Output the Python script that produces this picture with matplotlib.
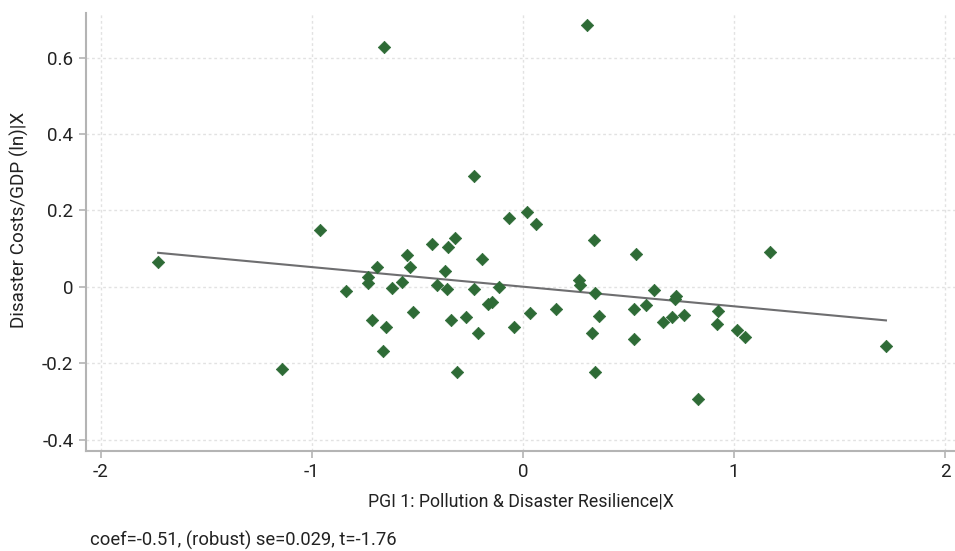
import matplotlib.pyplot as plt
import numpy as np

# Added-variable plot data
pgi_x = [-1.730, -1.141, -0.962, -0.839, -0.735, -0.732, -0.716, -0.689, -0.657, -0.650,
         -0.661, -0.618, -0.571, -0.547, -0.534, -0.522, -0.430, -0.405, -0.370, -0.359,
         -0.354, -0.342, -0.320, -0.312, -0.269, -0.231, -0.230, -0.214, -0.193, -0.163,
         -0.144, -0.113, -0.064, -0.040, 0.018, 0.034, 0.061, 0.157, 0.268, 0.271,
         0.306, 0.328, 0.339, 0.340, 0.342, 0.362, 0.527, 0.527, 0.535, 0.584,
         0.623, 0.664, 0.705, 0.724, 0.720, 0.764, 0.831, 0.918, 0.926, 1.015,
         1.053, 1.171, 1.720]
cost_y = [0.064, -0.216, 0.148, -0.010, 0.025, 0.009, -0.087, 0.051, 0.628, -0.105,
          -0.169, -0.004, 0.013, 0.083, 0.051, -0.065, 0.112, 0.004, 0.041, -0.007,
          0.104, -0.087, 0.127, -0.223, -0.079, 0.289, -0.007, -0.122, 0.074, -0.046,
          -0.041, 0.000, 0.181, -0.106, 0.195, -0.069, 0.164, -0.059, 0.019, 0.004,
          0.686, -0.120, 0.122, -0.017, -0.222, -0.077, -0.057, -0.137, 0.087, -0.048,
          -0.009, -0.092, -0.078, -0.023, -0.033, -0.074, -0.294, -0.098, -0.063, -0.112,
          -0.131, 0.091, -0.154]

# fitted line end points
fit_x = [-1.727, 1.720]
fit_y = [0.089, -0.088]

x_ticks = [-2, -1, 0, 1, 2]
y_ticks = [-0.4, -0.2, 0, 0.2, 0.4, 0.6]
y_ticklabels = ["-0.4", "-0.2", "0", "0.2", "0.4", "0.6"]

note = "coef=-0.51, (robust) se=0.029, t=-1.76"

plt.rcParams['font.family'] = ['Roboto', 'DejaVu Sans']
plt.rcParams['axes.unicode_minus'] = False

fig = plt.figure(figsize=(9.55, 5.51), dpi=100)
ax = fig.add_axes([0.090, 0.182, 0.910, 0.794])

grid_col = "#e2e2e2"
spine_col = "#b4b4b4"
text_col = "#222222"

ax.plot(fit_x, fit_y, color="#6e6e70", lw=1.5, zorder=3)
ax.scatter(pgi_x, cost_y, marker="D", s=40, color="#2e6b36", edgecolors="#2e6b36",
           linewidths=0.5, zorder=4)

ax.set_xlim(-2.069, 2.047)
ax.set_ylim(-0.4293, 0.7165)
ax.set_xticks(x_ticks)
ax.set_yticks(y_ticks)
ax.set_yticklabels(y_ticklabels)

ax.grid(True, color=grid_col, linestyle=(0, (2, 2)), lw=1.0)
ax.set_axisbelow(True)

for s in ["top", "right"]:
    ax.spines[s].set_visible(False)
for s in ["left", "bottom"]:
    ax.spines[s].set_color(spine_col)
    ax.spines[s].set_linewidth(1.5)

ax.tick_params(axis="both", direction="out", length=5, width=1.2, color=spine_col,
               labelsize=13.5, labelcolor=text_col, pad=4)

ax.set_xlabel("PGI 1: Pollution & Disaster Resilience|X", fontsize=12.8, color=text_col, labelpad=8)
ax.set_ylabel("Disaster Costs/GDP (ln)|X", fontsize=13.6, color=text_col)
ax.yaxis.set_label_coords(-0.066, 0.527)

fig.text(90 / 955, 1 - 540 / 551, note, fontsize=13.2, color=text_col, va="center", ha="left")

fig.savefig("out.png", dpi=100)
